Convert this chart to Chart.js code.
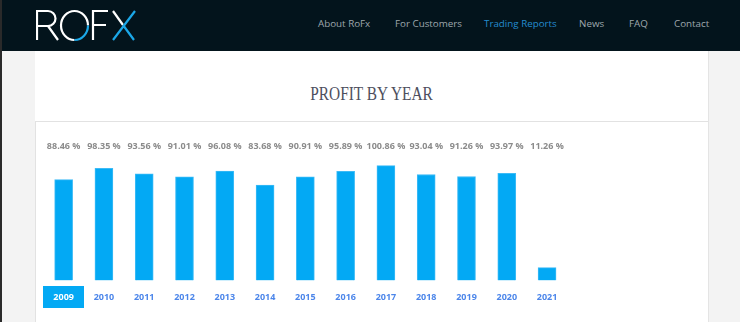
<!DOCTYPE html>
<html>
<head>
<meta charset="utf-8">
<title>RoFx - Trading Reports</title>
<script src="https://cdn.jsdelivr.net/npm/chart.js@4.4.0/dist/chart.umd.min.js"></script>
<style>
  html, body { margin: 0; padding: 0; }
  body {
    width: 740px; height: 322px; overflow: hidden; position: relative;
    background: #f3f3f3; font-family: "Open Sans", sans-serif;
  }
  .edge { position: absolute; left: 0; top: 0; width: 2px; height: 322px; background: #2a2a2a; }
  .nav { position: absolute; left: 0; top: 0; width: 740px; height: 51px; background: #03141c; }
  .logo { position: absolute; left: 36px; top: 9px; }
  .menu a {
    position: absolute; top: 17px; font-size: 9.8px; color: #9fa8ad;
    text-decoration: none; white-space: nowrap;
  }
  .menu a.active { color: #238cce; }
  .panel {
    position: absolute; left: 35px; top: 51px; width: 673px; height: 271px;
    background: #fff; border-right: 1px solid #e4e4e4;
  }
  .panel h2 {
    position: absolute; left: 0; top: 32px; width: 673px; margin: 0;
    text-align: center; font-family: "Liberation Serif", serif; font-weight: normal;
    font-size: 19px; color: #4e4f5e; letter-spacing: 0; transform: scaleX(0.81);
  }
  .card {
    position: absolute; left: 0; top: 70px; width: 672px; height: 220px;
    border-top: 1px solid #e2e2e2; border-left: 1px solid #e2e2e2;
  }
  #profitChart { position: absolute; left: 36px; top: 122px; }
</style>
</head>
<body>
<div class="nav">
  <svg class="logo" width="104" height="34" viewBox="0 0 104 34">
    <g fill="none" stroke="#ffffff" stroke-width="2.2" stroke-linecap="butt">
      <!-- R -->
      <path d="M1 31 V2 H12 A7.5 7.5 0 0 1 12 17 H1 M12 17 L22 31"/>
      <!-- O -->
      <path d="M52 16.5 A13.5 14.5 0 1 0 38.5 31"/>
      <!-- F -->
      <path d="M57 31 V2 H72 M57 16 H70"/>
      <!-- X -->
      <path d="M77 2 L87 16" />
    </g>
    <g fill="none" stroke="#1ba8e8" stroke-width="2.2">
      <path d="M52 16.5 A13.5 14.5 0 0 1 38.5 31"/>
      <path d="M87 16 L98 31 M99 2 L77 31"/>
    </g>
  </svg>
  <div class="menu">
    <a style="left:318px">About RoFx</a>
    <a style="left:395px">For Customers</a>
    <a class="active" style="left:484px">Trading Reports</a>
    <a style="left:579px">News</a>
    <a style="left:629px">FAQ</a>
    <a style="left:674px">Contact</a>
  </div>
</div>
<div class="edge"></div>
<div class="panel">
  <h2>PROFIT BY YEAR</h2>
  <div class="card"></div>
</div>
<canvas id="profitChart" width="672" height="200"></canvas>

<script>
// yearly profit, percent
const years = ['2009', '2010', '2011', '2012', '2013', '2014', '2015', '2016', '2017', '2018', '2019', '2020', '2021'];
const profit = [88.46, 98.35, 93.56, 91.01, 96.08, 83.68, 90.91, 95.89, 100.86, 93.04, 91.26, 93.97, 11.26];

const activeYear = '2009';
const blue = '#03a9f4';

// values above the bars and year tabs under them
const yearLabels = {
  id: 'yearLabels',
  afterDatasetsDraw(chart) {
    const { ctx, scales: { x } } = chart;
    ctx.save();
    ctx.textAlign = 'center';
    ctx.textBaseline = 'middle';
    years.forEach((year, i) => {
      const cx = x.getPixelForValue(i);

      ctx.font = 'bold 9px "Open Sans"';
      ctx.fillStyle = '#8b8b8b';
      ctx.fillText(profit[i].toFixed(2) + ' %', cx, 24);

      if (year === activeYear) {
        ctx.fillStyle = blue;
        ctx.fillRect(Math.round(cx - 20.5), 164, 41, 22);
        ctx.fillStyle = '#ffffff';
      } else {
        ctx.fillStyle = '#4c86ea';
      }
      ctx.font = 'bold 9px "Open Sans"';
      ctx.fillText(year, cx, 175.5);
    });
    ctx.restore();
  }
};

new Chart(document.getElementById('profitChart'), {
  type: 'bar',
  data: {
    labels: years,
    datasets: [{
      data: profit,
      backgroundColor: blue,
      borderColor: '#3dbbf6',
      borderWidth: 1,
      barThickness: 18
    }]
  },
  options: {
    responsive: false,
    animation: false,
    devicePixelRatio: 1,
    layout: { padding: { left: 7.5, right: 140.8, top: 37.7, bottom: 41.5 } },
    plugins: { legend: { display: false }, tooltip: { enabled: false } },
    scales: {
      x: { display: false },
      y: { display: false, min: 0, max: 106 }
    }
  },
  plugins: [yearLabels]
});
</script>
</body>
</html>
